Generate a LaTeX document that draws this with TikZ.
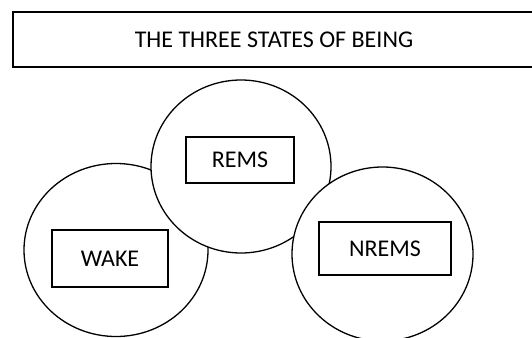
\documentclass[tikz,border=0pt]{standalone}
\usepackage{fontspec}
\setmainfont{Carlito}
\usetikzlibrary{shapes.geometric}

\begin{document}
\begin{tikzpicture}[x=1pt, y=-1pt,
  stateoval/.style={ellipse, draw, fill=white, line width=1.3pt, inner sep=0pt},
  statebox/.style={rectangle, draw, fill=white, line width=1.3pt, inner sep=0pt,
    font=\fontsize{24}{28}\selectfont},
  titlebox/.style={rectangle, draw, line width=1.5pt, inner sep=0pt,
    minimum width=522pt, minimum height=55pt, font=\fontsize{24}{28}\selectfont}]
  \clip (0,0) rectangle (532,337);
  % Title
  \node[titlebox] (title) at (274,39.5) {THE THREE STATES OF BEING};
  % Wake
  \node[stateoval, minimum width=184pt, minimum height=173pt] (wakeoval) at (116,250) {};
  \node[statebox, minimum width=116pt, minimum height=57pt] (wake) at (110,258.5) {WAKE};
  % REM sleep
  \node[stateoval, minimum width=180pt, minimum height=173pt] (remsoval) at (241,166.5) {};
  \node[statebox, minimum width=108pt, minimum height=46pt] (rems) at (240,160) {REMS};
  % Non-REM sleep
  \node[stateoval, minimum width=181pt, minimum height=174pt] (nremsoval) at (382.5,254) {};
  \node[statebox, minimum width=132pt, minimum height=53pt] (nrems) at (385,248.5) {NREMS};
\end{tikzpicture}
\end{document}
